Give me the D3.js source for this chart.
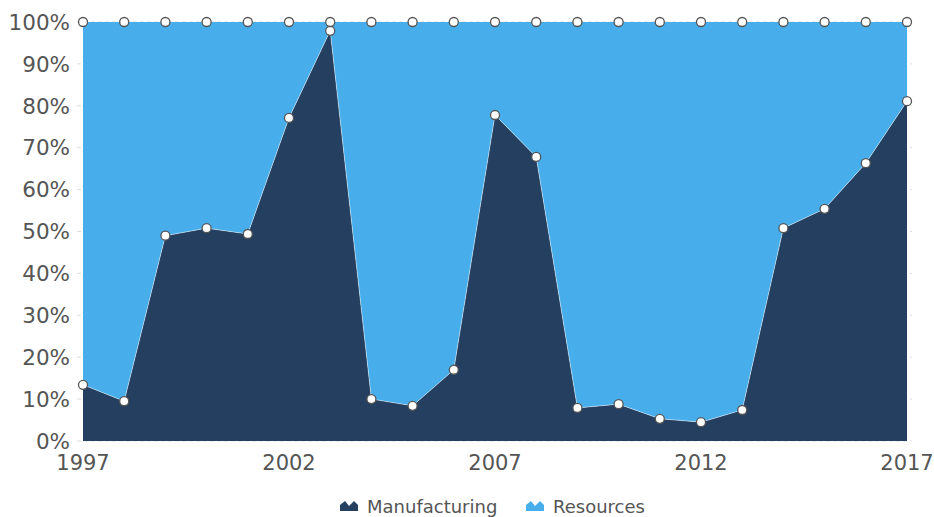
<!doctype html>
<html>
<head>
<meta charset="UTF-8">
<script src="https://d3js.org/d3.v7.min.js"></script>
<style>
  body { margin: 0; background: #fff; }
  text { font-family: "DejaVu Sans", Verdana, sans-serif; fill: #555; }
</style>
</head>
<body>
<script>
// data
const years = [1997, 1998, 1999, 2000, 2001, 2002, 2003, 2004, 2005, 2006, 2007,
               2008, 2009, 2010, 2011, 2012, 2013, 2014, 2015, 2016, 2017];
const manufacturing = [13.4, 9.5, 49.0, 50.8, 49.4, 77.1, 97.9, 10.0, 8.4, 17.0, 77.8,
                       67.8, 7.9, 8.8, 5.3, 4.5, 7.4, 50.8, 55.4, 66.3, 81.1];
const resources = manufacturing.map(v => +(100 - v).toFixed(1));
const seriesNames = ["Manufacturing", "Resources"];
const seriesColors = ["#243f5f", "#48aeeb"];
const yTicks = [0, 10, 20, 30, 40, 50, 60, 70, 80, 90, 100];
const xTicks = [1997, 2002, 2007, 2012, 2017];

const W = 934, H = 517;
const margin = {top: 22, right: 27, bottom: 76, left: 83};
const width = W - margin.left - margin.right;
const height = H - margin.top - margin.bottom;

const svg = d3.select("body").append("svg")
    .attr("width", W).attr("height", H);
const g = svg.append("g")
    .attr("transform", "translate(" + margin.left + "," + margin.top + ")");

const x = d3.scaleLinear().domain([1997, 2017]).range([0, width]);
const y = d3.scaleLinear().domain([0, 100]).range([height, 0]);

const rows = years.map((yr, i) => ({year: yr, Manufacturing: manufacturing[i], Resources: resources[i]}));
const stacked = d3.stack().keys(seriesNames)(rows);

// grid
g.append("g").selectAll("line")
  .data(yTicks).enter().append("line")
    .attr("x1", -6).attr("x2", width + 5)
    .attr("y1", d => y(d)).attr("y2", d => y(d))
    .attr("stroke", "#ddd")
    .attr("stroke-dasharray", "4,3");

const area = d3.area()
    .x(d => x(d.data.year))
    .y0(d => y(d[0]))
    .y1(d => y(d[1]));

g.selectAll(".area")
  .data(stacked).enter().append("path")
    .attr("class", "area")
    .attr("d", area)
    .attr("fill", (d, i) => seriesColors[i]);

// thin light line on the boundary
g.append("path")
  .datum(stacked[0])
  .attr("d", d3.line().x(d => x(d.data.year)).y(d => y(d[1])))
  .attr("fill", "none")
  .attr("stroke", "rgba(255,255,255,0.45)")
  .attr("stroke-width", 1);

// markers
stacked.forEach(s => {
  g.append("g").selectAll("circle")
    .data(s).enter().append("circle")
      .attr("cx", d => x(d.data.year))
      .attr("cy", d => y(d[1]))
      .attr("r", 4.5)
      .attr("fill", "#fff")
      .attr("stroke", "#555")
      .attr("stroke-width", 1.3);
});

// y axis labels
g.append("g").selectAll("text")
  .data(yTicks).enter().append("text")
    .attr("x", -13)
    .attr("y", d => y(d))
    .attr("dy", "0.36em")
    .attr("text-anchor", "end")
    .style("font-size", "21.5px")
    .text(d => d + "%");

// x axis labels
g.append("g").selectAll("text")
  .data(xTicks).enter().append("text")
    .attr("x", d => x(d))
    .attr("y", height + 29)
    .attr("text-anchor", "middle")
    .style("font-size", "21px")
    .text(d => d);

// legend
const legend = svg.append("g").attr("transform", "translate(340,0)");
const legendX = [0, 186];
seriesNames.forEach((name, i) => {
  const lg = legend.append("g").attr("transform", "translate(" + legendX[i] + ",500)");
  lg.append("path")
    .attr("d", "M0,11 L0,5 L5,1 L9,6 L14,1 L18,5 L18,11 Z")
    .attr("fill", seriesColors[i]);
  lg.append("text")
    .attr("x", 27)
    .attr("y", 13)
    .style("font-size", "18px")
    .text(name);
});
</script>
</body>
</html>
